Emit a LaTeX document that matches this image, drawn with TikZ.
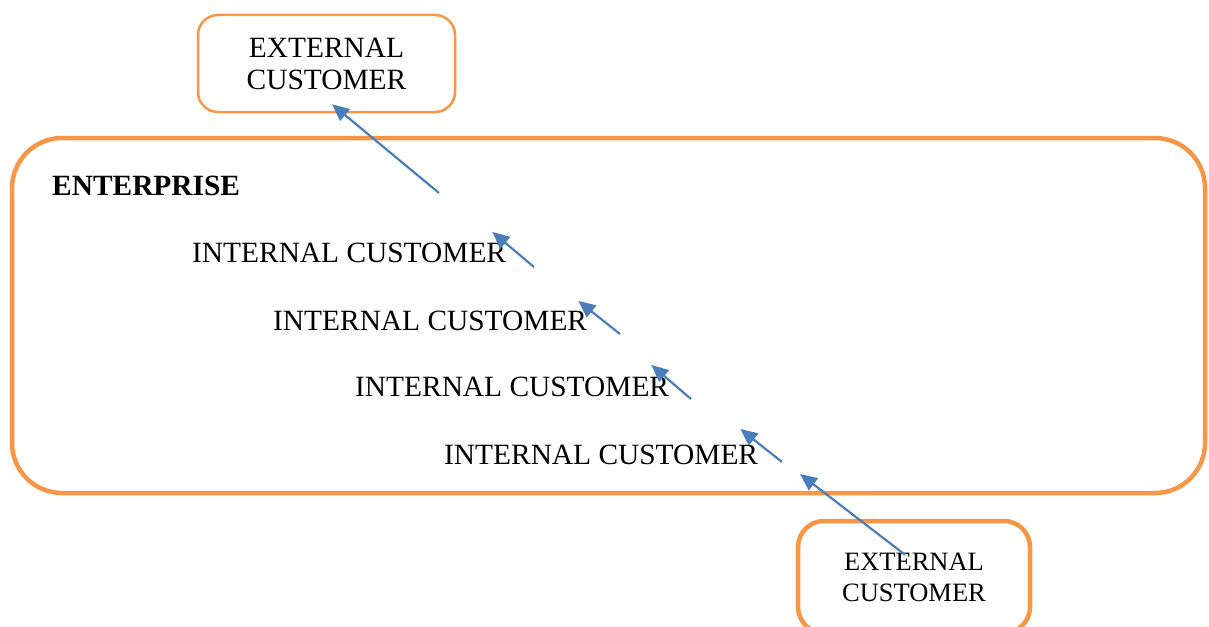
\documentclass[tikz,border=0pt]{standalone}
\usepackage{fontspec}
\setmainfont{Liberation Serif}
\usepackage{tikz}
\usetikzlibrary{arrows.meta, positioning}
\definecolor{boxorange}{HTML}{F79646}
\definecolor{arrowblue}{HTML}{4A7EBB}

\tikzset{
    extbox/.style={draw=boxorange, rounded corners=20pt, align=center, inner sep=0pt},
    internal/.style={anchor=west, inner sep=0pt, font=\fontsize{29.4}{33}\selectfont},
    flow/.style={-{Triangle[length=17pt, width=15pt]}, arrowblue, line width=2.2pt},
}

\begin{document}
\begin{tikzpicture}[x=1pt, y=-1pt]
    \useasboundingbox (0,0) rectangle (1209,626);
    \clip (0,0) rectangle (1209,626);

    \node[extbox, line width=2.5pt, minimum width=257pt, minimum height=97pt, font=\fontsize{29.4}{32}\selectfont] (ext1) at (326.5,63.5) {EXTERNAL\\CUSTOMER};
    \node[draw=boxorange, line width=4.5pt, rounded corners=50pt, minimum width=1193pt, minimum height=355pt] (enterprise) at (608.5,315.5) {};
    \node[anchor=west, inner sep=0pt, font=\fontsize{29.4}{33}\selectfont\bfseries] (title) at (52,186) {ENTERPRISE};
    \node[extbox, line width=4.5pt, rounded corners=26pt, minimum width=232pt, minimum height=112pt, font=\fontsize{26.5}{31}\selectfont] (ext2) at (914,577) {EXTERNAL\\CUSTOMER};

    \node[internal] (ic1) at (192,253) {INTERNAL CUSTOMER};
    \node[internal] (ic2) at (273,321) {INTERNAL CUSTOMER};
    \node[internal] (ic3) at (355,387) {INTERNAL CUSTOMER};
    \node[internal] (ic4) at (444,455) {INTERNAL CUSTOMER};

    \coordinate (tail0) at (439,193);
    \coordinate (tail1) at (534,267);
    \coordinate (tail2) at (620,334);
    \coordinate (tail3) at (691,399);
    \coordinate (tail4) at (782,462);
    \coordinate (entry) at (800,474);

    % customer chain, bottom to top
    \draw[flow] ([xshift=-9pt, yshift=-36pt]ext2.north) -- (entry);
    \draw[flow] (tail4) -- ([xshift=-18pt, yshift=16pt]ic4.north east);
    \draw[flow] (tail3) -- ([xshift=-18pt, yshift=12pt]ic3.north east);
    \draw[flow] (tail2) -- ([xshift=-9pt, yshift=10pt]ic2.north east);
    \draw[flow] (tail1) -- ([xshift=-14pt, yshift=11pt]ic1.north east);
    \draw[flow] (tail0) -- ([xshift=5.5pt, yshift=9pt]ext1.south);
\end{tikzpicture}
\end{document}
